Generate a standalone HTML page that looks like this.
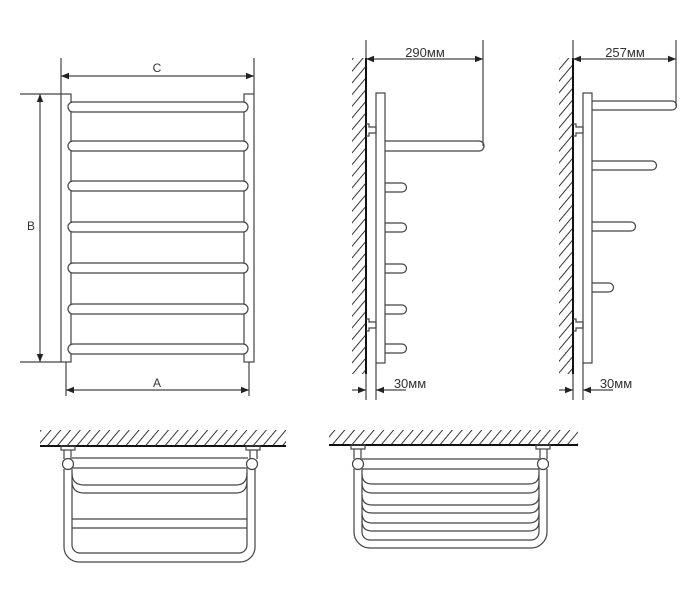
<!DOCTYPE html>
<html><head><meta charset="utf-8"><style>
html,body{margin:0;padding:0;background:#fff;width:700px;height:607px;overflow:hidden}
text{font-family:"Liberation Sans",sans-serif;fill:#333}
</style></head><body>
<svg width="700" height="607" viewBox="0 0 700 607" xmlns="http://www.w3.org/2000/svg">
<defs>
<pattern id="h" patternUnits="userSpaceOnUse" width="7.5" height="7.5" patternTransform="rotate(40)">
<line x1="0" y1="0" x2="0" y2="7.5" stroke="#111" stroke-width="1.7"/>
</pattern>
<marker id="ar" viewBox="0 0 10 10" refX="10" refY="5" markerWidth="8" markerHeight="8" orient="auto-start-reverse" markerUnits="userSpaceOnUse">
<path d="M0,1 L10,5 L0,9 z" fill="#222"/>
</marker>
</defs>
<g fill="none" stroke="#444" stroke-width="1.2">
<!-- FRONT VIEW -->
<line x1="61" y1="58" x2="61" y2="94"/><line x1="254" y1="58" x2="254" y2="94"/>
<line x1="61" y1="76" x2="254" y2="76" marker-start="url(#ar)" marker-end="url(#ar)"/>
<line x1="20" y1="94" x2="61" y2="94"/><line x1="20" y1="362" x2="61" y2="362"/>
<line x1="40" y1="94" x2="40" y2="362" marker-start="url(#ar)" marker-end="url(#ar)"/>
<line x1="66" y1="362" x2="66" y2="396"/><line x1="249" y1="362" x2="249" y2="396"/>
<line x1="66" y1="390" x2="249" y2="390" marker-start="url(#ar)" marker-end="url(#ar)"/>
<rect x="61" y="94" width="10" height="268"/>
<rect x="244" y="94" width="10" height="268"/>
<g fill="#fff">
<rect x="68" y="102" width="180" height="10" rx="5"/>
<rect x="68" y="141" width="180" height="10" rx="5"/>
<rect x="68" y="181" width="180" height="10" rx="5"/>
<rect x="68" y="222" width="180" height="10" rx="5"/>
<rect x="68" y="263" width="180" height="10" rx="5"/>
<rect x="68" y="304" width="180" height="10" rx="5"/>
<rect x="68" y="344" width="180" height="10" rx="5"/>
</g>

<!-- SIDE VIEW 1 -->
<rect x="352" y="58" width="14" height="316" fill="url(#h)" stroke="none"/>
<line x1="366" y1="40" x2="366" y2="400" stroke-width="1.2"/>
<line x1="366" y1="58" x2="366" y2="374" stroke="#111" stroke-width="2"/>
<line x1="376" y1="363" x2="376" y2="400"/>
<line x1="483" y1="40" x2="483" y2="146"/>
<line x1="366" y1="59" x2="483" y2="59" marker-start="url(#ar)" marker-end="url(#ar)"/>
<rect x="376" y="93" width="9" height="270" fill="#fff"/>
<path d="M366,124 h3 v3 h7 v6 h-7 v3 h-3"/>
<path d="M366,319 h3 v3 h7 v6 h-7 v3 h-3"/>
<path d="M385,141 H479 A5,5 0 0 1 479,151 H385"/>
<path d="M385,183 H402 A4.5,4.5 0 0 1 402,192 H385"/>
<path d="M385,223 H402 A4.5,4.5 0 0 1 402,232 H385"/>
<path d="M385,264 H402 A4.5,4.5 0 0 1 402,273 H385"/>
<path d="M385,305 H402 A4.5,4.5 0 0 1 402,314 H385"/>
<path d="M385,344 H402 A4.5,4.5 0 0 1 402,353 H385"/>
<line x1="352" y1="390" x2="366" y2="390" marker-end="url(#ar)"/>
<line x1="406" y1="390" x2="376" y2="390" marker-end="url(#ar)"/>

<!-- SIDE VIEW 2 -->
<rect x="559" y="58" width="14" height="316" fill="url(#h)" stroke="none"/>
<line x1="573" y1="40" x2="573" y2="400"/>
<line x1="573" y1="58" x2="573" y2="374" stroke="#111" stroke-width="2"/>
<line x1="583" y1="363" x2="583" y2="400"/>
<line x1="676" y1="40" x2="676" y2="106"/>
<line x1="573" y1="59" x2="676" y2="59" marker-start="url(#ar)" marker-end="url(#ar)"/>
<rect x="583" y="93" width="9" height="270" fill="#fff"/>
<path d="M573,124 h3 v3 h7 v6 h-7 v3 h-3"/>
<path d="M573,319 h3 v3 h7 v6 h-7 v3 h-3"/>
<path d="M592,101 H672 A4.5,4.5 0 0 1 672,110 H592"/>
<path d="M592,161 H652 A4.5,4.5 0 0 1 652,170 H592"/>
<path d="M592,222 H631 A4.5,4.5 0 0 1 631,231 H592"/>
<path d="M592,283 H609 A4.5,4.5 0 0 1 609,292 H592"/>
<line x1="559" y1="390" x2="573" y2="390" marker-end="url(#ar)"/>
<line x1="613" y1="390" x2="583" y2="390" marker-end="url(#ar)"/>

<!-- BOTTOM VIEW LEFT -->
<rect x="40" y="430" width="246" height="16" fill="url(#h)" stroke="none"/>
<line x1="40" y1="446" x2="286" y2="446" stroke="#111" stroke-width="2"/>
<rect x="61" y="446" width="14" height="4"/><rect x="246" y="446" width="14" height="4"/>
<line x1="64" y1="450" x2="64" y2="459"/><line x1="71" y1="450" x2="71" y2="459"/>
<line x1="250" y1="450" x2="250" y2="459"/><line x1="257" y1="450" x2="257" y2="459"/>
<line x1="72" y1="458" x2="248" y2="458"/><line x1="72" y1="468" x2="248" y2="468"/>
<path d="M64,469 V547 A15,15 0 0 0 79,562 H240 A15,15 0 0 0 255,547 V469"/>
<path d="M72,469 V545 A8,8 0 0 0 80,553 H239 A8,8 0 0 0 247,545 V469"/>
<path d="M72,473 Q72,485 84,485 H236 Q247,485 247,473"/>
<path d="M72,481 Q72,493 84,493 H236 Q247,493 247,481"/>
<line x1="72" y1="519" x2="247" y2="519"/><line x1="72" y1="528" x2="247" y2="528"/>
<circle cx="68" cy="464" r="5.5" fill="#fff"/><circle cx="252" cy="464" r="5.5" fill="#fff"/>

<!-- BOTTOM VIEW RIGHT -->
<rect x="329" y="430" width="249" height="15" fill="url(#h)" stroke="none"/>
<line x1="329" y1="445" x2="578" y2="445" stroke="#111" stroke-width="2"/>
<rect x="351" y="445" width="14" height="4"/><rect x="536" y="445" width="14" height="4"/>
<line x1="354" y1="449" x2="354" y2="459"/><line x1="361" y1="449" x2="361" y2="459"/>
<line x1="540" y1="449" x2="540" y2="459"/><line x1="547" y1="449" x2="547" y2="459"/>
<line x1="362" y1="459" x2="539" y2="459"/><line x1="362" y1="469" x2="539" y2="469"/>
<path d="M354,469 V532 A16,16 0 0 0 370,548 H531 A16,16 0 0 0 547,532 V469"/>
<path d="M362,469 V532 A8,8 0 0 0 370,540 H531 A8,8 0 0 0 539,532 V469"/>
<path d="M362,474 Q362,484 372,484 H529 Q539,484 539,474"/>
<path d="M362,483 Q362,493 372,493 H529 Q539,493 539,483"/>
<path d="M362,495 Q362,505 372,505 H529 Q539,505 539,495"/>
<path d="M362,503 Q362,513 372,513 H529 Q539,513 539,503"/>
<path d="M362,513 Q362,523 372,523 H529 Q539,523 539,513"/>
<path d="M362,521 Q362,531 372,531 H529 Q539,531 539,521"/>
<circle cx="358" cy="464" r="5.5" fill="#fff"/><circle cx="543" cy="464" r="5.5" fill="#fff"/>
</g>
<text x="157" y="72" font-size="12" text-anchor="middle">C</text>
<text x="31" y="230" font-size="12" text-anchor="middle">B</text>
<text x="157" y="387" font-size="12" text-anchor="middle">A</text>
<text x="425" y="57" font-size="13" text-anchor="middle">290мм</text>
<text x="625" y="57" font-size="13" text-anchor="middle">257мм</text>
<text x="410" y="388" font-size="13" text-anchor="middle">30мм</text>
<text x="616" y="388" font-size="13" text-anchor="middle">30мм</text>
</svg>
</body></html>
